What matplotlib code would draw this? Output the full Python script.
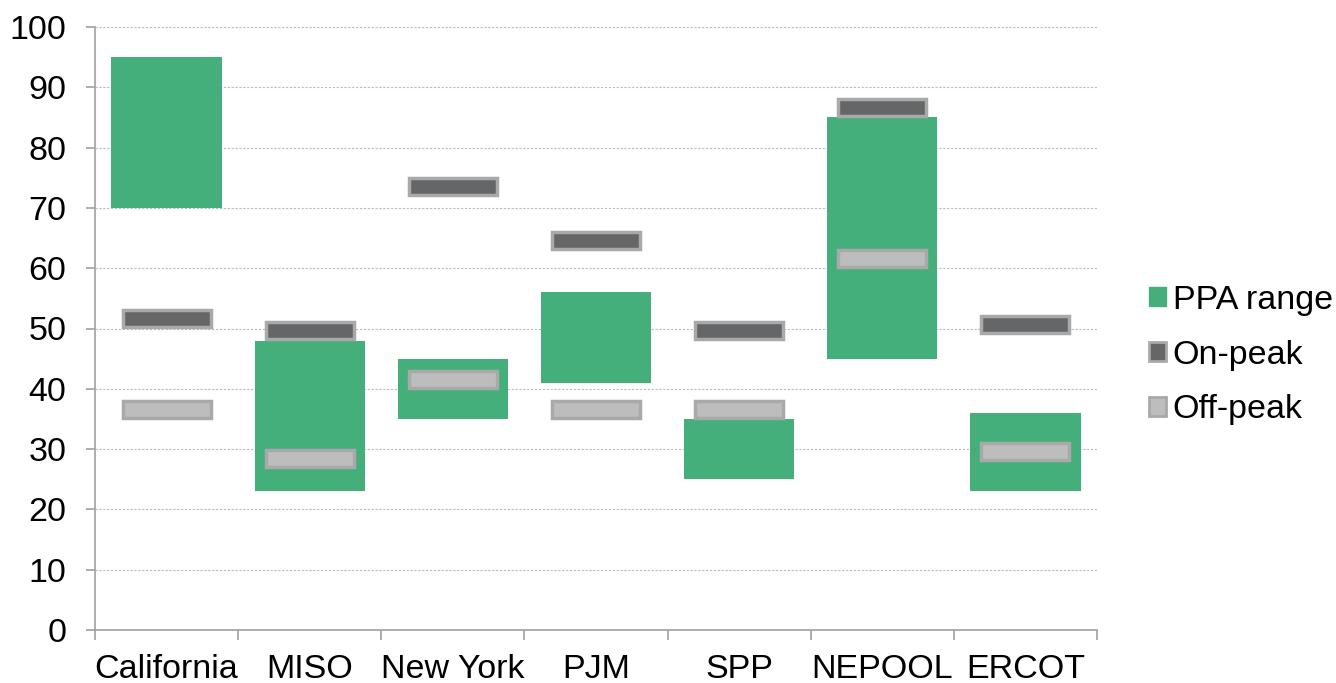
import matplotlib
matplotlib.use("Agg")
import matplotlib.pyplot as plt
from matplotlib.patches import Patch
import numpy as np

categories = ["California", "MISO", "New York", "PJM", "SPP", "NEPOOL", "ERCOT"]
ppa_low = [70, 23, 35, 41, 25, 45, 23]
ppa_high = [95, 48, 45, 56, 35, 85, 36]
on_peak = [51.6, 49.6, 73.5, 64.6, 49.6, 86.6, 50.6]
off_peak = [36.5, 28.5, 41.5, 36.5, 36.5, 61.6, 29.6]

plt.rcParams['font.family'] = ['Liberation Sans', 'DejaVu Sans']

green = "#45AF7C"
on_col = "#656668"
off_col = "#BEBDBE"
edge_col = "#A9A9A9"

fig = plt.figure(figsize=(13.36, 6.83), dpi=100)
ax = fig.add_axes([95/1336, 53/683, (1097-95)/1336, (630-27)/683])

x = np.arange(len(categories))
mh = 2.8
ax.bar(x, np.array(ppa_high) - np.array(ppa_low), bottom=ppa_low, width=0.77,
       color=green, zorder=2)
ax.bar(x, mh, bottom=np.array(on_peak) - mh/2, width=0.615, color=on_col,
       edgecolor=edge_col, linewidth=2.5, zorder=3)
ax.bar(x, mh, bottom=np.array(off_peak) - mh/2, width=0.615, color=off_col,
       edgecolor=edge_col, linewidth=2.5, zorder=3)

ax.set_xlim(-0.5, len(categories) - 0.5)
ax.set_ylim(0, 100)
ax.set_yticks(np.arange(0, 101, 10))
ax.tick_params(axis='y', labelsize=24.5, length=6.5, color='#A0A0A0', width=1.2, pad=14)
ax.set_xticks(x)
ax.set_xticklabels(categories)
ax.tick_params(axis='x', which='major', length=0, labelsize=24.5, pad=17)
ax.set_xticks(np.arange(-0.5, len(categories), 1), minor=True)
ax.tick_params(axis='x', which='minor', length=7, color='#A0A0A0', width=1.2)

ax.yaxis.grid(True, linestyle=(0, (2, 1.5)), color='#BBBBBB', linewidth=0.8, zorder=0)
ax.set_axisbelow(True)
for s in ['top', 'right']:
    ax.spines[s].set_visible(False)
for s in ['left', 'bottom']:
    ax.spines[s].set_color('#A0A0A0')
    ax.spines[s].set_linewidth(1.2)

handles = [
    Patch(facecolor=green, edgecolor=green, label="PPA range"),
    Patch(facecolor=on_col, edgecolor=edge_col, linewidth=2, label="On-peak"),
    Patch(facecolor=off_col, edgecolor=edge_col, linewidth=2, label="Off-peak"),
]
fig.legend(handles=handles, loc='center left', bbox_to_anchor=(1149/1336, 1 - 355/683),
           frameon=False, fontsize=24.5, handlelength=0.5, handleheight=0.5,
           handletextpad=0.2, labelspacing=0.7, borderaxespad=0, borderpad=0)

fig.savefig("out.png", dpi=100)
